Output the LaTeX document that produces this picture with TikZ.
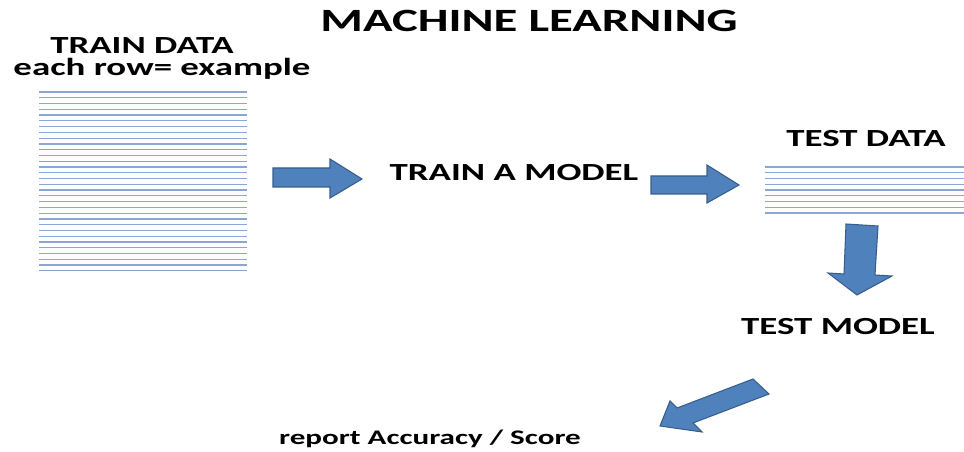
\documentclass[tikz,border=0pt]{standalone}
\usepackage{fontspec}
\setmainfont{Carlito}[FakeStretch=1.5]
\usepackage{tikz}
\usetikzlibrary{positioning}
\usepackage{xcolor}
\definecolor{OffBlue}{HTML}{4F81BD}
\definecolor{OffEdge}{HTML}{385D8A}
\definecolor{RowBlue}{HTML}{8AA6D2}
\tikzset{
  lbl/.style={anchor=base, inner sep=0pt, font=\bfseries\fontsize{#1}{#1}\selectfont},
  lbl/.default={14},
  blockarr/.style={fill=OffBlue, draw=OffEdge, line width=0.6pt, line join=miter},
  rowline/.style={draw=RowBlue, line width=0.7pt},
}
\begin{document}
\begin{tikzpicture}[x=0.02cm, y=-0.02cm]
  \useasboundingbox (0,0) rectangle (964,452);
  % titles and labels
  \node[lbl=18.5] (title) at (529,32) {MACHINE LEARNING};
  \node[lbl] (traindata) at (142,54) {TRAIN DATA};
  \node[lbl] (rowlbl) at (162,76) {each row= example};
  \node[lbl] (trainmodel) at (514,181) {TRAIN A MODEL};
  \node[lbl] (testdata) at (866,147) {TEST DATA};
  \node[lbl] (testmodel) at (838,335) {TEST MODEL};
  \node[lbl=11.8] (report) at (430,445) {report Accuracy / Score};
  % data rows
  \foreach \i in {0,...,31}
    \draw[rowline] (39,92+5.77*\i) -- (247,92+5.77*\i);
  \foreach \i in {0,...,8}
    \draw[rowline] (765,167+5.75*\i) -- (964,167+5.75*\i);
  % block arrows
  \draw[blockarr] (273,168) -- (330,168) -- (330,159) -- (362,179)
    -- (330,198) -- (330,187) -- (273,187) -- cycle;
  \draw[blockarr] (651,176) -- (707,176) -- (707,165) -- (739,185)
    -- (707,203) -- (707,194) -- (651,194) -- cycle;
  \draw[blockarr] (846,224) -- (878,226) -- (875,275) -- (892,276)
    -- (857,295) -- (828,273) -- (844,274) -- cycle;
  \draw[blockarr] (753,379) -- (677,408) -- (670,401) -- (660,426)
    -- (702,432) -- (693,423) -- (769,394) -- cycle;
\end{tikzpicture}
\end{document}
